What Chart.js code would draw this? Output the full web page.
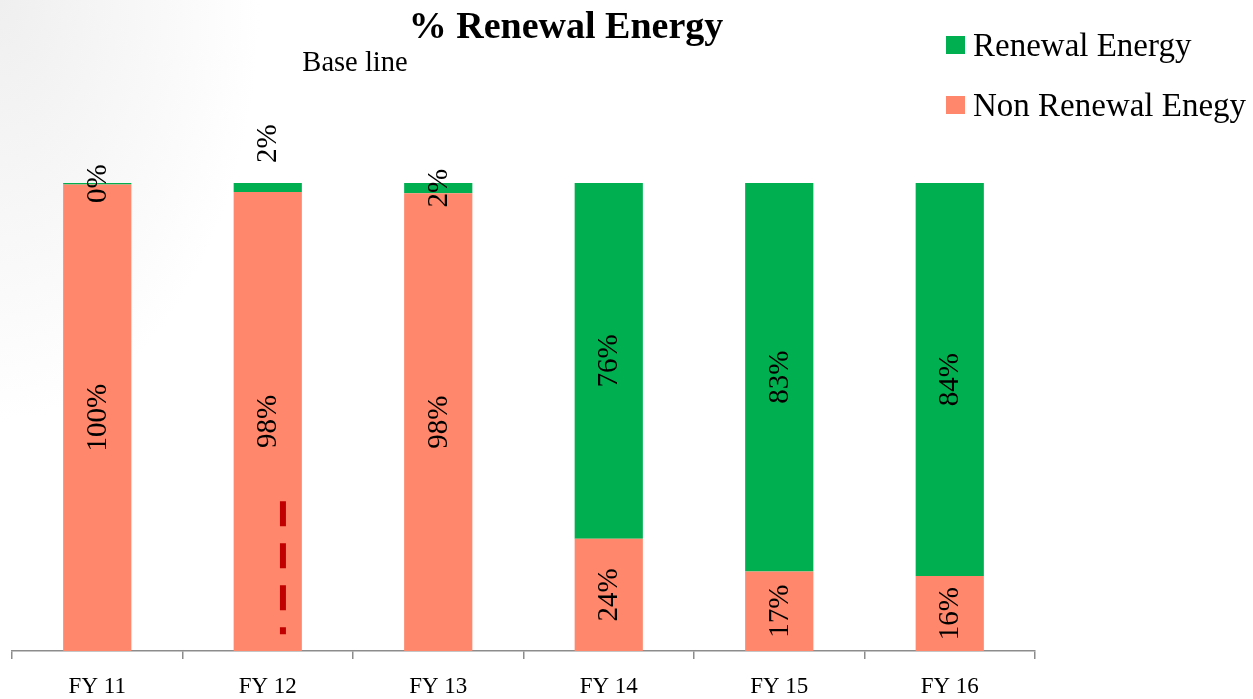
<!DOCTYPE html>
<html>
<head>
<meta charset="utf-8">
<script src="https://cdn.jsdelivr.net/npm/chart.js@4.4.1/dist/chart.umd.min.js"></script>
<style>
  html, body { margin: 0; padding: 0; }
  body {
    width: 1253px; height: 699px; position: relative; overflow: hidden;
    background: radial-gradient(ellipse 260px 420px at 0 0, #efefef 0%, #fafafa 70%, #ffffff 100%);
    font-family: "Liberation Serif", "Times New Roman", serif;
  }
  #wrap { position: absolute; left: 0; top: 0; width: 1253px; height: 699px; }
  .txt { position: absolute; white-space: nowrap; color: #000; }
  #title { left: 566px; top: 4px; transform: translateX(-50%); font-size: 38px; font-weight: bold; line-height: 42px; }
  #baseline { left: 355px; top: 46px; transform: translateX(-50%); font-size: 28.5px; line-height: 31px; }
  #legend { position: absolute; left: 946px; top: 25px; }
  .item { display: flex; align-items: center; height: 40px; margin-bottom: 20px; font-size: 33px; }
  .box { width: 19px; height: 18px; margin-right: 8px; flex: none; }
</style>
</head>
<body>
<div id="wrap"><canvas id="chart" width="1253" height="699"></canvas></div>
<div class="txt" id="title">% Renewal Energy</div>
<div class="txt" id="baseline">Base line</div>
<div id="legend"></div>
<script>
const categories = ["FY 11", "FY 12", "FY 13", "FY 14", "FY 15", "FY 16"];
const renewal = [0.3, 1.9, 2.2, 76, 83, 84];
const nonRenewal = [99.7, 98.1, 97.8, 24, 17, 16];
const seriesNames = ["Renewal Energy", "Non Renewal Enegy"];

const green = "#00B050";
const salmon = "#FF876B";

// label of FY 12 renewal sits above the bar
const labelAbove = [false, true, false, false, false, false];

const barLabels = {
  id: "barLabels",
  afterDatasetsDraw(chart) {
    const ctx = chart.ctx;
    ctx.save();
    ctx.font = '29px "Liberation Serif", "Times New Roman", serif';
    ctx.fillStyle = "#000";
    ctx.textAlign = "center";
    ctx.textBaseline = "middle";
    chart.data.datasets.forEach((ds, di) => {
      const meta = chart.getDatasetMeta(di);
      meta.data.forEach((bar, i) => {
        const p = bar.getProps(["x", "y", "base"], true);
        const text = Math.round(ds.data[i]) + "%";
        const w = ctx.measureText(text).width;
        let cy = (p.y + p.base) / 2;
        if (di === 1 && labelAbove[i]) cy = Math.min(p.y, p.base) - 20 - w / 2;
        ctx.save();
        ctx.translate(p.x, cy);
        ctx.rotate(-Math.PI / 2);
        ctx.fillText(text, 0, 1);
        ctx.restore();
      });
    });
    ctx.restore();
  }
};

// red dashed marker in the FY 12 bar
const baseMarker = {
  id: "baseMarker",
  afterDatasetsDraw(chart) {
    const xs = chart.scales.x, ys = chart.scales.y;
    const step = xs.getPixelForValue(2) - xs.getPixelForValue(1);
    const x = xs.getPixelForValue(1) + step * 0.089;
    const ctx = chart.ctx;
    ctx.save();
    ctx.strokeStyle = "#C00000";
    ctx.lineWidth = 6;
    ctx.setLineDash([25, 17]);
    ctx.beginPath();
    ctx.moveTo(x, ys.getPixelForValue(32));
    ctx.lineTo(x, ys.getPixelForValue(3.6));
    ctx.stroke();
    ctx.restore();
  }
};

const chart = new Chart(document.getElementById("chart"), {
  type: "bar",
  data: {
    labels: categories,
    datasets: [
      { label: seriesNames[1], data: nonRenewal, backgroundColor: salmon },
      { label: seriesNames[0], data: renewal, backgroundColor: green }
    ]
  },
  options: {
    responsive: false,
    maintainAspectRatio: false,
    animation: false,
    devicePixelRatio: 1,
    layout: { padding: { left: 12, right: 218, top: 183, bottom: 0 } },
    datasets: { bar: { categoryPercentage: 1, barPercentage: 0.4 } },
    plugins: {
      legend: { display: false },
      title: { display: false },
      tooltip: { enabled: false }
    },
    scales: {
      x: {
        stacked: true,
        afterFit: (s) => { s.height = 48; },
        grid: { offset: true, drawOnChartArea: false, drawTicks: true, tickLength: 8, color: "#8c8c8c", lineWidth: 1.5 },
        border: { display: true, color: "#8c8c8c", width: 1.5 },
        ticks: { color: "#000", padding: 14, font: { family: '"Liberation Serif", "Times New Roman", serif', size: 23 } }
      },
      y: {
        stacked: true,
        display: false,
        min: 0,
        max: 100
      }
    }
  },
  plugins: [barLabels, baseMarker]
});

// legend built from the datasets (renewal first, as in the reference)
const legend = document.getElementById("legend");
[1, 0].forEach(di => {
  const ds = chart.data.datasets[di];
  const item = document.createElement("div");
  item.className = "item";
  item.innerHTML = '<span class="box" style="background:' + ds.backgroundColor + '"></span><span>' + ds.label + "</span>";
  legend.appendChild(item);
});
</script>
</body>
</html>
